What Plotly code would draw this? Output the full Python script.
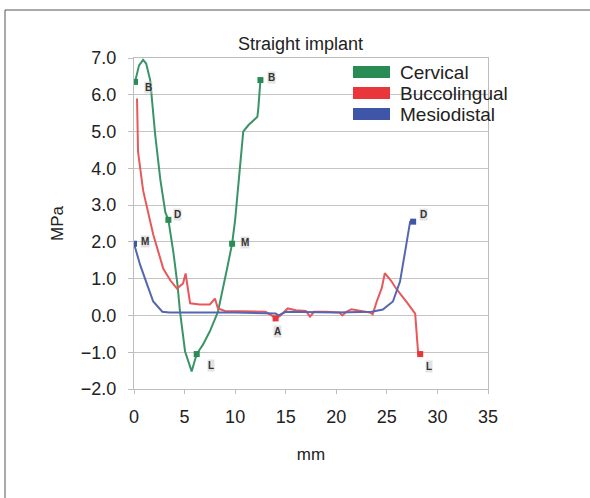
import plotly.graph_objects as go

# ---- data ----
cervical_x = [0.1, 0.5, 0.9, 1.2, 1.6, 2.1, 2.6, 3.1, 3.4, 3.9, 4.3, 4.55, 5.05, 5.7,
              6.2, 6.8, 7.5, 8.3, 9.2, 9.7, 10.0, 10.5, 10.8, 11.3, 12.2, 12.3, 12.5]
cervical_y = [6.35, 6.8, 6.95, 6.85, 6.4, 4.9, 3.7, 2.8, 2.6, 1.7, 0.84, 0.1, -0.98, -1.52,
              -1.05, -0.8, -0.43, 0.1, 1.27, 1.95, 2.6, 4.17, 5.0, 5.17, 5.4, 5.66, 6.4]

bucco_x = [0.3, 0.4, 0.9, 1.3, 1.9, 2.9, 3.6, 4.25, 4.85, 5.1, 5.55, 6.5, 7.5, 8.0, 8.3,
           9.0, 11.0, 13.0, 13.6, 14.0, 14.4, 15.2, 16.0, 17.0, 17.4, 17.8, 19.0, 20.3,
           20.6, 21.0, 21.5, 22.5, 23.3, 23.6, 24.0, 24.5, 24.8, 25.4, 26.0, 27.0, 27.8,
           28.1, 28.3]
bucco_y = [5.9, 4.45, 3.4, 2.9, 2.2, 1.27, 0.95, 0.73, 0.87, 1.14, 0.33, 0.3, 0.3, 0.46, 0.19,
           0.12, 0.1, 0.1, 0.0, -0.08, -0.02, 0.19, 0.14, 0.12, -0.03, 0.1, 0.1, 0.08,
           0.0, 0.1, 0.17, 0.12, 0.08, 0.03, 0.38, 0.75, 1.15, 0.95, 0.7, 0.35, 0.05,
           -1.05, -1.05]

mesio_x = [0.0, 0.6, 1.3, 1.9, 2.8, 3.5, 6.0, 10.0, 14.0, 14.3, 15.0, 20.0, 23.5, 24.6,
           25.6, 26.3, 26.8, 27.3, 27.6]
mesio_y = [1.95, 1.38, 0.84, 0.38, 0.1, 0.08, 0.08, 0.08, 0.05, 0.0, 0.1, 0.08, 0.1, 0.16,
           0.38, 0.92, 1.73, 2.55, 2.55]

# point markers (x, y) per series
cerv_mk_x = [0.1, 3.4, 6.2, 9.7, 12.5]
cerv_mk_y = [6.35, 2.6, -1.05, 1.95, 6.4]
bucc_mk_x = [14.0, 28.3]
bucc_mk_y = [-0.08, -1.05]
mesi_mk_x = [0.0, 27.6]
mesi_mk_y = [1.95, 2.55]

# point labels
lab_text = ["B", "B", "D", "M", "M", "L", "A", "D", "L"]
lab_x = [1.4, 13.6, 4.3, 1.1, 11.0, 7.6, 14.2, 28.6, 29.2]
lab_y = [6.2, 6.48, 2.74, 2.0, 1.98, -1.36, -0.45, 2.74, -1.4]

series_names = ["Cervical", "Buccolingual", "Mesiodistal"]
colors = ["#2a8c55", "#e8363a", "#3e55a8"]
line_colors = ["#3a9468", "#e8585a", "#5566b0"]

x_ticks = [0, 5, 10, 15, 20, 25, 30, 35]
y_ticks = [-2, -1, 0, 1, 2, 3, 4, 5, 6, 7]

FONT = "Liberation Sans"

fig = go.Figure()
for xs, ys, lc in [(cervical_x, cervical_y, line_colors[0]),
                   (bucco_x, bucco_y, line_colors[1]),
                   (mesio_x, mesio_y, line_colors[2])]:
    fig.add_trace(go.Scatter(x=xs, y=ys, mode="lines",
                             line=dict(color=lc, width=2), showlegend=False,
                             hoverinfo="skip"))
for xs, ys, c in [(cerv_mk_x, cerv_mk_y, colors[0]),
                  (bucc_mk_x, bucc_mk_y, colors[1]),
                  (mesi_mk_x, mesi_mk_y, colors[2])]:
    fig.add_trace(go.Scatter(x=xs, y=ys, mode="markers",
                             marker=dict(color=c, size=6, symbol="square"),
                             showlegend=False, hoverinfo="skip"))

for t, x, y in zip(lab_text, lab_x, lab_y):
    fig.add_annotation(x=x, y=y, text=f"<b>{t}</b>", showarrow=False,
                       font=dict(family=FONT, size=10, color="#333333"),
                       bgcolor="rgba(200,200,200,0.5)", borderpad=0)

# manual legend (thick colour bars + labels)
L, W_PLOT = 134, 354
T, H_PLOT = 58, 331


def px(xp):
    return (xp - L) / W_PLOT


def py(yp):
    return (T + H_PLOT - yp) / H_PLOT


leg_rows = [72, 93, 114]
for name, c, yc in zip(series_names, colors, leg_rows):
    fig.add_shape(type="rect", xref="paper", yref="paper",
                  x0=px(353), x1=px(390), y0=py(yc + 6), y1=py(yc - 6),
                  fillcolor=c, line=dict(width=0))
    fig.add_annotation(xref="paper", yref="paper", x=px(398), y=py(yc),
                       text=name, showarrow=False, xanchor="left", yanchor="middle",
                       font=dict(family=FONT, size=19, color="#222222"))

# title
fig.add_annotation(xref="paper", yref="paper", x=px(300), y=py(44),
                   text="Straight implant", showarrow=False,
                   xanchor="center", yanchor="middle",
                   font=dict(family=FONT, size=18, color="#222222"))

# outer frame (top and left edges)
fig.add_shape(type="line", xref="paper", yref="paper",
              x0=px(5), x1=px(600), y0=py(10), y1=py(10),
              line=dict(color="#555555", width=1))
fig.add_shape(type="line", xref="paper", yref="paper",
              x0=px(5), x1=px(5), y0=py(10), y1=py(510),
              line=dict(color="#555555", width=1))

fig.update_layout(
    width=590, height=498,
    margin=dict(l=L, r=590 - L - W_PLOT, t=T, b=498 - T - H_PLOT),
    paper_bgcolor="white", plot_bgcolor="white",
    font=dict(family=FONT, size=18, color="#222222"),
    showlegend=False,
    xaxis=dict(range=[0, 35], tickvals=x_ticks, ticktext=[str(v) for v in x_ticks],
               showgrid=False, zeroline=False, showline=True, mirror=True,
               linecolor="#bdbdbd", linewidth=1, ticks="outside", ticklen=4,
               tickcolor="#bdbdbd", ticklabelstandoff=7,
               title=dict(text="mm", font=dict(size=17), standoff=22)),
    yaxis=dict(range=[-2, 7], tickvals=y_ticks,
               ticktext=[f"{v:.1f}".replace("-", "\u2212") for v in y_ticks],
               showgrid=True, gridcolor="#c4c4c4", gridwidth=1,
               zeroline=False, showline=True, mirror=True,
               linecolor="#bdbdbd", linewidth=1, ticks="outside", ticklen=5,
               tickcolor="#bdbdbd", ticklabelstandoff=8,
               title=dict(text="MPa", font=dict(size=17), standoff=12)),
)

fig.write_html("out.html")
